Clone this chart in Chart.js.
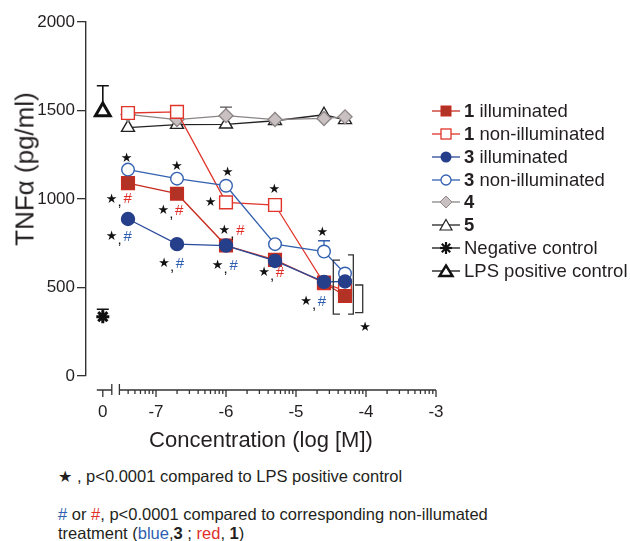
<!DOCTYPE html>
<html>
<head>
<meta charset="utf-8">
<script src="https://cdn.jsdelivr.net/npm/chart.js@4.4.1/dist/chart.umd.min.js"></script>
<style>
  html, body { margin: 0; padding: 0; background: #fff; }
  body { width: 630px; height: 541px; position: relative; overflow: hidden;
         font-family: 'Liberation Sans', Arial, sans-serif; color: #231f20; }
  #wrap { position: absolute; left: 0; top: 0; width: 630px; height: 460px; }
  #yTitle { position: absolute; left: 25px; top: 169px; font-size: 26px; white-space: nowrap;
            transform: translate(-50%, -50%) rotate(-90deg); }
  #legend { position: absolute; left: 431px; top: 100px; font-size: 18.5px; }
  .row { height: 22.75px; display: flex; align-items: center; white-space: nowrap; }
  .row svg { margin-right: 3px; }
  .note { position: absolute; left: 58px; font-size: 16.5px; line-height: 19px; white-space: nowrap; }
  .blue { color: #2f5fb0; }
  .red { color: #e0302a; }
  .star { font-family: 'DejaVu Sans', sans-serif; font-size: 16px; }
</style>
</head>
<body>
<div id="wrap"><canvas id="myChart" width="630" height="460"></canvas></div>
<div id="yTitle">TNFα (pg/ml)</div>

<div id="legend">
  <div class="row"><svg width="30" height="16"><line x1="1" y1="8" x2="29" y2="8" stroke="#c62d20" stroke-width="1.3"/><rect x="10" y="3" width="10" height="10" fill="#b33226" stroke="#c62d20"/></svg><b>1</b>&nbsp;illuminated</div>
  <div class="row"><svg width="30" height="16"><line x1="1" y1="8" x2="29" y2="8" stroke="#e0352a" stroke-width="1.3"/><rect x="10" y="3" width="10" height="10" fill="#fff" stroke="#e0352a" stroke-width="1.3"/></svg><b>1</b>&nbsp;non-illuminated</div>
  <div class="row"><svg width="30" height="16"><line x1="1" y1="8" x2="29" y2="8" stroke="#2a4a9a" stroke-width="1.3"/><circle cx="15" cy="8" r="5.5" fill="#263f8a"/></svg><b>3</b>&nbsp;illuminated</div>
  <div class="row"><svg width="30" height="16"><line x1="1" y1="8" x2="29" y2="8" stroke="#3461b0" stroke-width="1.3"/><circle cx="15" cy="8" r="5" fill="#fff" stroke="#3461b0" stroke-width="1.3"/></svg><b>3</b>&nbsp;non-illuminated</div>
  <div class="row"><svg width="30" height="16"><line x1="1" y1="8" x2="29" y2="8" stroke="#8a8585" stroke-width="1.3"/><polygon points="15,2 21,8 15,14 9,8" fill="#c9c1c1" stroke="#8f8787"/></svg><b>4</b></div>
  <div class="row"><svg width="30" height="16"><line x1="1" y1="8" x2="29" y2="8" stroke="#222" stroke-width="1.3"/><polygon points="15,2.5 21,13 9,13" fill="#fff" stroke="#222" stroke-width="1.2"/></svg><b>5</b></div>
  <div class="row"><svg width="30" height="16"><line x1="1" y1="8" x2="29" y2="8" stroke="#111" stroke-width="1.3"/><g stroke="#111" stroke-width="2.2"><line x1="15" y1="2" x2="15" y2="14"/><line x1="9" y1="8" x2="21" y2="8"/><line x1="10.8" y1="3.8" x2="19.2" y2="12.2"/><line x1="10.8" y1="12.2" x2="19.2" y2="3.8"/></g></svg>Negative control</div>
  <div class="row"><svg width="30" height="16"><line x1="1" y1="8" x2="29" y2="8" stroke="#111" stroke-width="1.3"/><polygon points="15,2.5 21.5,13 8.5,13" fill="#fff" stroke="#111" stroke-width="2.4"/></svg>LPS positive control</div>
</div>

<div class="note" style="top:467px"><span class="star">★</span> , p&lt;0.0001 compared to LPS positive control</div>
<div class="note" style="top:505px"><span class="blue">#</span> or <span class="red">#</span>, p&lt;0.0001 compared to corresponding non-illumated</div>
<div class="note" style="top:524px">treatment (<span class="blue">blue</span>,<b>3</b> ; <span class="red">red</span>, <b>1</b>)</div>

<script>
'use strict'

// log [M] of the tested concentrations
let logConc = [-7.4, -6.7, -6.0, -5.3, -4.6, -4.3];

// TNF-alpha (pg/ml)
let illum1 = [1090, 1030, 737, 656, 528, 452];
let nonIllum1 = [1486, 1492, 981, 966, 524, 482];
let illum3 = [887, 745, 737, 650, 532, 534];
let nonIllum3 = [1166, 1115, 1075, 745, 703, 579];
let cmp4 = [1478, 1449, 1471, 1449, 1455, 1464];
let cmp5 = [1403, 1420, 1422, 1442, 1476, 1447];
let negControl = 335;
let lpsControl = 1495;

// upper error bars (SEM), 0 = not visible
let nonIllum3Err = [0, 0, 0, 0, 61, 0];
let cmp4Err = [0, 0, 48, 0, 0, 0];
let negErr = 42;
let lpsErr = 145;

let xTickValues = [-7, -6, -5, -4, -3];
let yTickStep = 500;

// where the "0" (no compound) group sits on the broken x axis
let controlPos = -7.76;
let axisStart = -8 + Math.log10(3);

// significance marks, in data units
let starMarks = [[-7.419, 1230], [-6.704, 1182], [-5.976, 1151], [-6.219, 979], [-5.31, 1051], [-4.624, 812], [-4.014, 275]];
let starHashMarks = [
  [-7.633, 998, '#e0302a'], [-7.633, 787, '#2f5fb0'],
  [-6.896, 934, '#e0302a'], [-6.886, 633, '#2f5fb0'],
  [-6.024, 821, '#e0302a'], [-6.119, 621, '#2f5fb0'],
  [-5.457, 584, '#e0302a'], [-4.857, 420, '#2f5fb0']
];
// brackets: x of the bar, x of the serif ends, top, bottom
let brackets = [[-4.467, -4.371, 655, 350], [-4.181, -4.257, 684, 350], [-4.047, -4.157, 514, 358]];

function pts(vals) {
  return vals.map((v, i) => ({x: logConc[i], y: v}));
}

function series(label, vals, color, fill, style, radius, lineColor) {
  return {
    label: label,
    data: pts(vals),
    showLine: true,
    borderColor: lineColor || color,
    borderWidth: 1.3,
    pointStyle: style,
    pointRadius: radius,
    pointBorderColor: color,
    pointBackgroundColor: fill,
    pointBorderWidth: 1.4
  };
}

let ds3i = series('3 illuminated', illum3, '#263f8a', '#263f8a', 'circle', 6.5, '#2a4a9a');
let ds3n = series('3 non-illuminated', nonIllum3, '#3461b0', '#fff', 'circle', 6.3);
ds3n.errUp = nonIllum3Err; ds3n.errColor = '#3461b0';
let ds1i = series('1 illuminated', illum1, '#c62d20', '#b33226', 'rect', 9);
let ds1n = series('1 non-illuminated', nonIllum1, '#e0352a', '#fff', 'rect', 9);
let ds4 = series('4', cmp4, '#8f8787', '#c9c1c1', 'rectRot', 7, '#8a8585');
ds4.errUp = cmp4Err; ds4.errColor = '#555';
let ds5 = series('5', cmp5, '#222', '#fff', 'triangle', 7.5);

let dsNeg = {
  label: 'Negative control',
  data: [{x: controlPos, y: negControl}],
  pointStyle: 'star', pointRadius: 6.5, pointBorderWidth: 3,
  pointBorderColor: '#111', pointBackgroundColor: '#111',
  errUp: [negErr], errColor: '#111', errWidth: 1.6
};
let dsLps = {
  label: 'LPS positive control',
  data: [{x: controlPos, y: lpsControl}],
  pointStyle: 'triangle', pointRadius: 8.5, pointBorderWidth: 3,
  pointBorderColor: '#111', pointBackgroundColor: '#fff',
  errUp: [lpsErr], errColor: '#111', errWidth: 1.6
};

const errorBars = {
  id: 'errorBars',
  beforeDatasetsDraw(chart) {
    const {ctx, scales: {x, y}} = chart;
    ctx.save();
    chart.data.datasets.forEach(ds => {
      if (!ds.errUp) return;
      ds.data.forEach((p, i) => {
        const e = ds.errUp[i];
        if (!e) return;
        const px = x.getPixelForValue(p.x);
        const py = y.getPixelForValue(p.y);
        const pt = y.getPixelForValue(p.y + e);
        ctx.strokeStyle = ds.errColor;
        ctx.lineWidth = ds.errWidth || 1.3;
        ctx.beginPath();
        ctx.moveTo(px, py); ctx.lineTo(px, pt);
        ctx.moveTo(px - 6, pt); ctx.lineTo(px + 6, pt);
        ctx.stroke();
      });
    });
    ctx.restore();
  }
};

// Prism style x axis: detached from the plot, broken after the control group
const brokenAxis = {
  id: 'brokenAxis',
  afterDraw(chart) {
    const {ctx, scales: {x}} = chart;
    const y0 = chart.chartArea.bottom + 14;
    ctx.save();
    ctx.strokeStyle = '#333';
    ctx.lineWidth = 1.3;
    ctx.beginPath();
    // left piece around the control group
    const c = x.getPixelForValue(controlPos);
    const l0 = c - 6, l1 = c + 9;
    ctx.moveTo(l0, y0); ctx.lineTo(l1, y0);
    ctx.moveTo(l1, y0 - 6); ctx.lineTo(l1, y0 + 5);
    ctx.moveTo(c, y0); ctx.lineTo(c, y0 + 7);
    // right piece, log scale
    const r0 = x.getPixelForValue(axisStart), r1 = x.getPixelForValue(-3);
    ctx.moveTo(r0, y0); ctx.lineTo(r1, y0);
    ctx.moveTo(r0, y0 - 6); ctx.lineTo(r0, y0 + 5);
    xTickValues.forEach(v => {
      const px = x.getPixelForValue(v);
      ctx.moveTo(px, y0); ctx.lineTo(px, y0 + 7);
    });
    for (let d = -8; d < -3; d++) {
      for (let k = 2; k <= 9; k++) {
        const v = d + Math.log10(k);
        if (v < axisStart - 1e-6) continue;
        const px = x.getPixelForValue(v);
        ctx.moveTo(px, y0); ctx.lineTo(px, y0 + 4);
      }
    }
    ctx.stroke();
    ctx.restore();
  }
};

const sigMarks = {
  id: 'sigMarks',
  afterDatasetsDraw(chart) {
    const {ctx, scales: {x, y}} = chart;
    ctx.save();
    ctx.textAlign = 'center';
    ctx.textBaseline = 'middle';
    function star(px, py) {
      ctx.fillStyle = '#111';
      ctx.font = '13px "DejaVu Sans"';
      ctx.fillText('★', px, py);
    }
    starMarks.forEach(m => star(x.getPixelForValue(m[0]), y.getPixelForValue(m[1])));
    starHashMarks.forEach(m => {
      const px = x.getPixelForValue(m[0]), py = y.getPixelForValue(m[1]);
      star(px, py);
      ctx.font = '15px "Liberation Sans", Arial';
      ctx.fillStyle = '#111';
      ctx.fillText(',', px + 8, py + 3);
      ctx.fillStyle = m[2];
      ctx.fillText('#', px + 16, py);
    });
    ctx.strokeStyle = '#333';
    ctx.lineWidth = 1.3;
    ctx.beginPath();
    brackets.forEach(b => {
      const bx = x.getPixelForValue(b[0]), sx = x.getPixelForValue(b[1]);
      const t = y.getPixelForValue(b[2]), btm = y.getPixelForValue(b[3]);
      ctx.moveTo(sx, t); ctx.lineTo(bx, t); ctx.lineTo(bx, btm); ctx.lineTo(sx, btm);
    });
    ctx.stroke();
    ctx.restore();
  }
};

let ctx = document.getElementById('myChart').getContext('2d');
let chart = new Chart(ctx, {
  type: 'scatter',
  data: {datasets: [ds3i, ds3n, ds1i, ds1n, ds4, ds5, dsNeg, dsLps]},
  plugins: [errorBars, brokenAxis, sigMarks],
  options: {
    responsive: false,
    animation: false,
    events: [],
    layout: {padding: {top: 22, right: 194, left: 0, bottom: 0}},
    plugins: {legend: {display: false}, tooltip: {enabled: false}},
    scales: {
      x: {
        type: 'linear', min: -8, max: -3,
        afterFit(scale) { scale.height = 84; },
        afterBuildTicks(scale) {
          scale.ticks = [{value: controlPos}].concat(xTickValues.map(v => ({value: v})));
        },
        border: {display: false},
        grid: {display: false, drawTicks: false},
        ticks: {
          padding: 26, color: '#231f20', maxRotation: 0, autoSkip: false,
          font: {family: "'Liberation Sans', Arial", size: 17},
          callback: v => (v === controlPos ? '0' : String(v))
        },
        title: {
          display: true, text: 'Concentration (log [M])', color: '#231f20',
          font: {family: "'Liberation Sans', Arial", size: 22},
          padding: {top: 0, bottom: 6}
        }
      },
      y: {
        min: 0, max: 2000,
        afterFit(scale) { scale.width = 86; },
        border: {display: true, color: '#333', width: 1.4},
        grid: {display: true, drawOnChartArea: false, drawTicks: true, tickLength: 9, color: '#333', lineWidth: 1.3},
        ticks: {
          stepSize: yTickStep, padding: 2, color: '#231f20',
          font: {family: "'Liberation Sans', Arial", size: 17},
          callback: v => String(v)
        }
      }
    }
  }
});
</script>
</body>
</html>
